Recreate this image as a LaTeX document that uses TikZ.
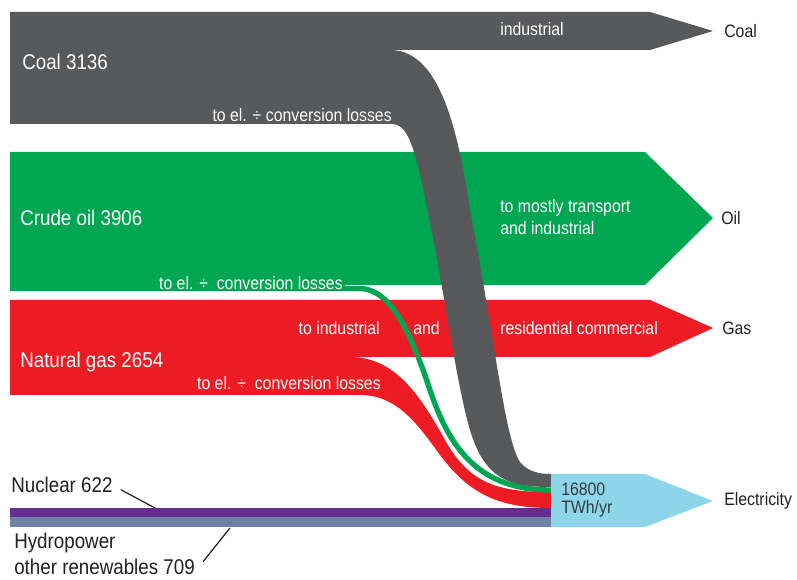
\documentclass[tikz,border=0pt]{standalone}
\usepackage{fontspec}
\setmainfont{Liberation Sans}[FakeStretch=0.88]
\definecolor{coalc}{HTML}{58595B}
\definecolor{oilc}{HTML}{00A651}
\definecolor{gasc}{HTML}{ED1C24}
\definecolor{elc}{HTML}{8DD5E8}
\definecolor{nucc}{HTML}{662D91}
\definecolor{hydc}{HTML}{6C80A8}
\definecolor{outc}{HTML}{231F20}
\definecolor{boxtxt}{HTML}{333A40}
\begin{document}
\begin{tikzpicture}[x=0.75pt,y=-0.75pt,
  lab/.style={inner sep=0pt, text=white, font=\fontsize{13.5}{16.5}\selectfont},
  biglab/.style={inner sep=0pt, text=white, font=\fontsize{16}{19}\selectfont, anchor=west},
  outlab/.style={inner sep=0pt, text=outc, font=\fontsize{13.5}{16}\selectfont, anchor=west},
  sidelab/.style={inner sep=0pt, text=outc, font=\fontsize{16}{19}\selectfont, anchor=west},
  leader/.style={draw=outc, line width=0.9pt}]
\useasboundingbox (0,0) rectangle (797,580);

% natural gas
\fill[gasc] (10,300) -- (650,300) -- (713,328) -- (650,357) -- (350,357)
  .. controls (395,357) and (420,395) .. (445,440)
  .. controls (470,485) and (500,492) .. (551,492) -- (551,508)
  .. controls (500,508) and (470,495) .. (440,455)
  .. controls (415,420) and (395,395) .. (360,395) -- (10,395) -- cycle;

% crude oil
\fill[oilc] (10,152) -- (645,152) -- (713,218) -- (645,285) -- (345,285) -- (345,287) -- (10,287) -- cycle;
\draw[oilc, line width=4pt] (10,288.5) -- (360,288.5)
  .. controls (390,289) and (410,330) .. (430,390)
  .. controls (450,450) and (480,490) .. (551,490);

% coal
\fill[coalc] (10,12) -- (650,12) -- (713,31) -- (650,50) -- (392,50)
  .. controls (440,52) and (458,130) .. (470,210)
  .. controls (495,340) and (505,440) .. (520,462)
  .. controls (528,472) and (540,474) .. (551,474) -- (551,487)
  .. controls (510,487) and (485,480) .. (470,430)
  .. controls (455,380) and (440,260) .. (420,175)
  .. controls (412,140) and (405,124) .. (392,124) -- (10,124) -- cycle;

% electricity, nuclear, hydro
\fill[elc] (551,474) -- (645,474) -- (713,501) -- (645,527) -- (551,527) -- cycle;
\fill[nucc] (10,508) rectangle (551,517);
\fill[hydc] (10,517) rectangle (551,527);

% labels in the bands
\node[biglab] (coallab) at (22,62) {Coal 3136};
\node[lab] (coalind) at (532,29) {industrial};
\node[lab, anchor=east] (coalel) at (392,115) {to el. ÷ conversion losses};
\node[biglab] (oillab) at (20,218) {Crude oil 3906};
\node[lab, anchor=west, align=left] (oiluse) at (500,217) {to mostly transport\\and industrial};
\node[lab, anchor=east] (oilel) at (343,283) {to el. ÷\ \ conversion losses};
\node[lab, anchor=east] (gasind) at (380,328) {to industrial};
\node[lab, anchor=west] (gasand) at (413,328) {and};
\node[lab, anchor=west] (gasres) at (500,328) {residential commercial};
\node[biglab] (gaslab) at (20,362) {Natural gas 2654};
\node[lab, anchor=east] (gasel) at (381,383) {to el. ÷\ \ conversion losses};
\node[lab, anchor=west, align=left, text=boxtxt, font=\fontsize{13.5}{14}\selectfont] (eltot) at (561,500) {16800\\TWh/yr};

% labels outside
\node[outlab] (coalout) at (724,31) {Coal};
\node[outlab] (oilout) at (721,218) {Oil};
\node[outlab] (gasout) at (722,328) {Gas};
\node[outlab] (elout) at (724,501) {Electricity};
\node[sidelab] (nuclab) at (11,485) {Nuclear 622};
\node[sidelab] (hyd1) at (14,543) {Hydropower};
\node[sidelab] (hyd2) at (14,567) {other renewables 709};

% leader lines
\coordinate (nucpt) at (155,508);
\coordinate (hydpt) at (230,528);
\draw[leader] ([xshift=6pt,yshift=-3.5pt]nuclab.east) -- (nucpt);
\draw[leader] ([xshift=6pt,yshift=4pt]hyd2.east) -- (hydpt);
\end{tikzpicture}
\end{document}
